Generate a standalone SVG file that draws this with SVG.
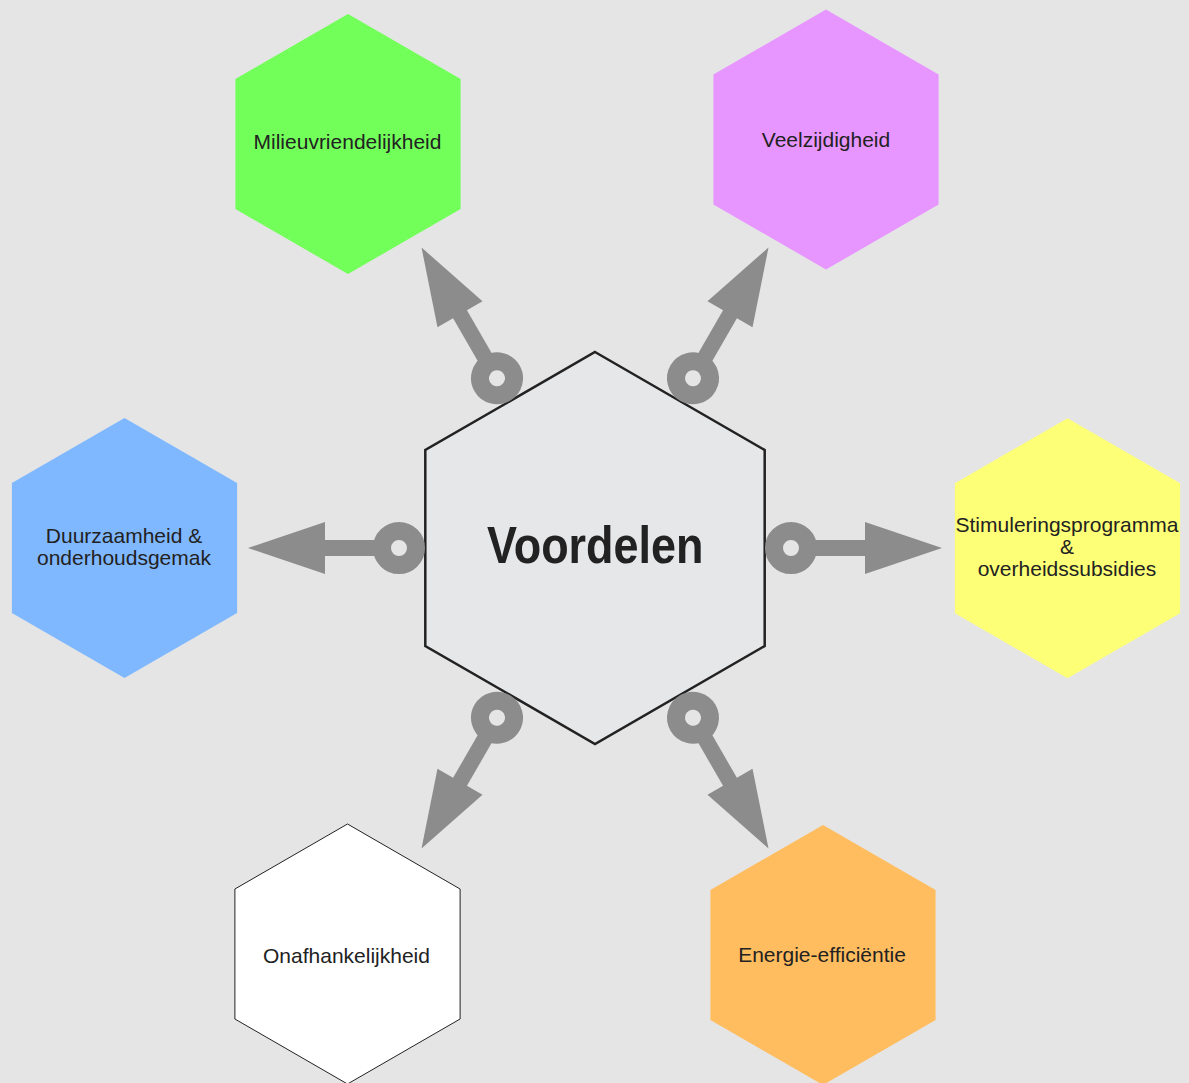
<svg xmlns="http://www.w3.org/2000/svg" xmlns:xlink="http://www.w3.org/1999/xlink" width="1189" height="1083" viewBox="0 0 1189 1083">
  <style>
    .lbl { font-family: "Liberation Sans", Arial, sans-serif; font-size: 21px; fill: #222222; text-anchor: middle; }
    .title { font-family: "Liberation Sans", Arial, sans-serif; font-size: 52px; font-weight: bold; fill: #222222; }
    .conn { fill: #8c8c8c; }
  </style>
  <defs>
    <g id="connector">
      <circle cx="196" cy="0" r="17" fill="none" stroke="#8c8c8c" stroke-width="18"/>
      <rect class="conn" x="212" y="-8" width="60" height="16"/>
      <polygon class="conn" points="270,-26 347,0 270,26"/>
    </g>
  </defs>
  <rect x="0" y="0" width="1189" height="1083" fill="#e5e5e5"/>

  <g id="node-milieu">
    <polygon points="348,14 460.6,79 460.6,209 348,274 235.4,209 235.4,79" fill="#73ff5a"/>
    <text class="lbl" x="347.5" y="148.5">Milieuvriendelijkheid</text>
  </g>
  <g id="node-veelzijdigheid">
    <polygon points="826,9.5 938.6,74.5 938.6,204.5 826,269.5 713.4,204.5 713.4,74.5" fill="#e896ff"/>
    <text class="lbl" x="826" y="147">Veelzijdigheid</text>
  </g>
  <g id="node-stimulering">
    <polygon points="1067.5,418.3 1180.1,483.3 1180.1,613.3 1067.5,678.3 954.9,613.3 954.9,483.3" fill="#fdff77"/>
    <text class="lbl" x="1067" y="531.5">Stimuleringsprogramma</text>
    <text class="lbl" x="1067" y="553.5">&amp;</text>
    <text class="lbl" x="1067" y="575.5">overheidssubsidies</text>
  </g>
  <g id="node-duurzaamheid">
    <polygon points="124.5,418 237.1,483 237.1,613 124.5,678 11.9,613 11.9,483" fill="#80b8ff"/>
    <text class="lbl" x="124" y="542.5">Duurzaamheid &amp;</text>
    <text class="lbl" x="124" y="564.5">onderhoudsgemak</text>
  </g>
  <g id="node-onafhankelijkheid">
    <polygon points="347.5,824 460.1,889 460.1,1019 347.5,1084 234.9,1019 234.9,889" fill="#ffffff" stroke="#222222" stroke-width="1"/>
    <text class="lbl" x="346.5" y="962.5">Onafhankelijkheid</text>
  </g>
  <g id="node-energie">
    <polygon points="823,825 935.6,890 935.6,1020 823,1085 710.4,1020 710.4,890" fill="#ffbd5f"/>
    <text class="lbl" x="822" y="962">Energie-efficiëntie</text>
  </g>

  <g id="node-voordelen">
    <polygon points="595,352 764.7,450 764.7,646 595,744 425.3,646 425.3,450" fill="#e6e7e9" stroke="#222222" stroke-width="2.5"/>
    <text class="title" transform="translate(487 563.3) scale(0.865 1)" x="0" y="0">Voordelen</text>
  </g>

  <g id="connectors">
    <use xlink:href="#connector" href="#connector" transform="translate(595 548) rotate(-120)"/>
    <use xlink:href="#connector" href="#connector" transform="translate(595 548) rotate(-60)"/>
    <use xlink:href="#connector" href="#connector" transform="translate(595 548)"/>
    <use xlink:href="#connector" href="#connector" transform="translate(595 548) rotate(60)"/>
    <use xlink:href="#connector" href="#connector" transform="translate(595 548) rotate(120)"/>
    <use xlink:href="#connector" href="#connector" transform="translate(595 548) rotate(180)"/>
  </g>
</svg>
